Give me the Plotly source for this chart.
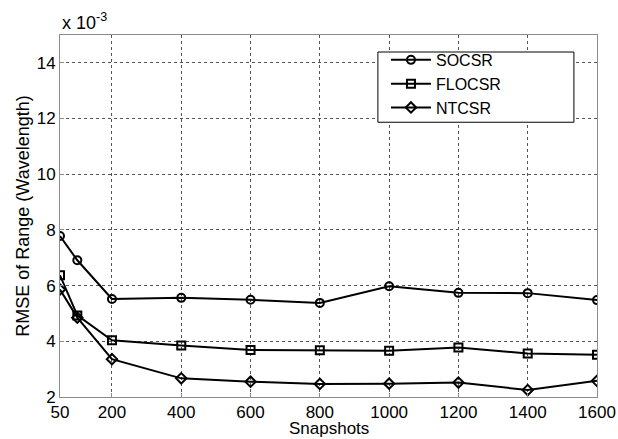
import plotly.graph_objects as go

snapshots = [50, 100, 200, 400, 600, 800, 1000, 1200, 1400, 1600]
socsr = [7.78, 6.91, 5.52, 5.56, 5.49, 5.38, 5.98, 5.74, 5.73, 5.48]
flocsr = [6.37, 4.93, 4.04, 3.85, 3.69, 3.68, 3.66, 3.78, 3.56, 3.52]
ntcsr = [5.86, 4.85, 3.36, 2.67, 2.55, 2.47, 2.48, 2.52, 2.25, 2.58]
xticks = [50, 200, 400, 600, 800, 1000, 1200, 1400, 1600]
yticks = [2, 4, 6, 8, 10, 12, 14]

FONT = "Arial, Liberation Sans, sans-serif"
fig = go.Figure()
for name, vals, sym in [("SOCSR", socsr, "circle-open"),
                        ("FLOCSR", flocsr, "square-open"),
                        ("NTCSR", ntcsr, "diamond-open")]:
    fig.add_trace(go.Scatter(
        x=snapshots, y=vals, name=name, mode="lines+markers",
        line=dict(color="black", width=2),
        marker=dict(symbol=sym, size=8, color="black", line=dict(width=2, color="black")),
    ))

axis_common = dict(
    showline=True, linecolor="#8c8c8c", linewidth=1, mirror=True,
    showgrid=True, gridcolor="#555555", griddash="dot", gridwidth=1,
    zeroline=False, ticks="inside", ticklen=4, tickcolor="#8c8c8c",
    tickfont=dict(family=FONT, size=17, color="black"),
    automargin=False,
)
fig.update_xaxes(range=[50, 1600], tickvals=xticks, **axis_common)
fig.update_yaxes(range=[2, 15], tickvals=yticks, **axis_common,
                 title=dict(text="RMSE of Range (Wavelength)", font=dict(family=FONT, size=18, color="black"), standoff=2))

fig.add_annotation(text="Snapshots", xref="paper", yref="paper", x=0.5, y=-0.087,
                   xanchor="center", yanchor="middle", showarrow=False,
                   font=dict(family=FONT, size=17, color="black"))
fig.add_annotation(text="x 10<sup>-3</sup>", xref="paper", yref="paper", x=0, y=1.0,
                   xanchor="left", yanchor="bottom", showarrow=False,
                   font=dict(family=FONT, size=18, color="black"))

# legend frame
fig.add_shape(type="rect", xref="paper", yref="paper", x0=0.592, x1=0.957, y0=0.759, y1=0.953,
              line=dict(color="black", width=1), fillcolor="white", layer="above")

fig.update_layout(
    width=618, height=439,
    margin=dict(l=60, r=21, t=35, b=42),
    paper_bgcolor="white", plot_bgcolor="white",
    showlegend=True,
    legend=dict(x=0.607, y=0.978, xanchor="left", yanchor="top",
                bgcolor="rgba(0,0,0,0)", borderwidth=0,
                font=dict(family=FONT, size=16, color="black"),
                tracegroupgap=0, itemwidth=40),
)
fig.write_html("out.html")
